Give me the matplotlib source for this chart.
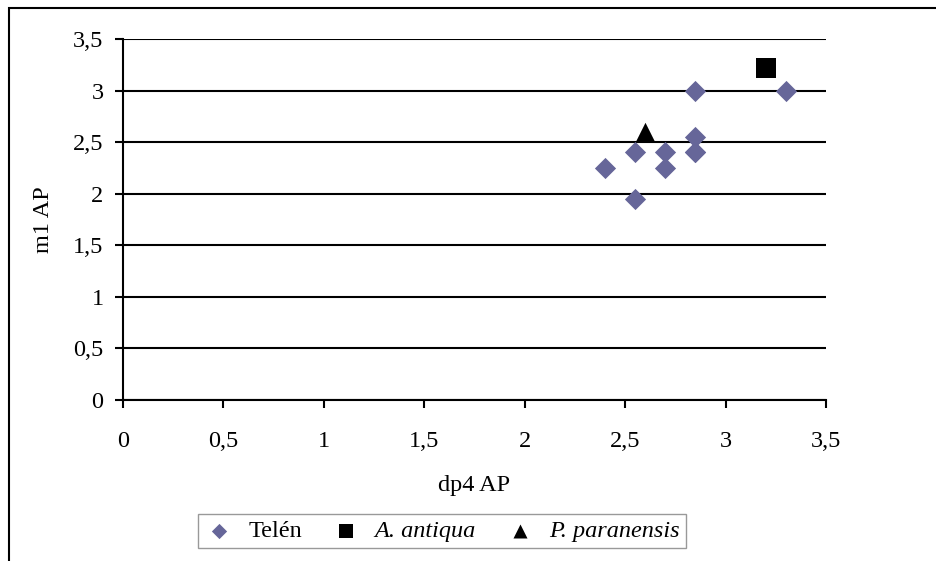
import matplotlib.pyplot as plt
from matplotlib.patches import Rectangle
from matplotlib.ticker import FuncFormatter

# dp4 AP vs m1 AP
telen_x = [2.4, 2.55, 2.55, 2.7, 2.7, 2.85, 2.85, 2.85, 2.85, 3.3]
telen_y = [2.25, 2.4, 1.95, 2.4, 2.25, 3.0, 2.55, 2.4, 2.4, 3.0]
antiqua_x = [3.2]
antiqua_y = [3.22]
paranensis_x = [2.6]
paranensis_y = [2.6]

ticks = [0, 0.5, 1, 1.5, 2, 2.5, 3, 3.5]

plt.rcParams['font.family'] = ['Liberation Serif', 'DejaVu Serif']
fs = 17.5

fig = plt.figure(figsize=(9.36, 5.61), dpi=100)
fig.patch.set_facecolor('white')
ax = fig.add_axes([0.1314, 0.287, 0.7511, 0.6435])

ax.scatter(telen_x, telen_y, marker='D', s=10.8**2, color='#666699',
           linewidths=0, zorder=3, label='Telén')
ax.scatter(antiqua_x, antiqua_y, marker='s', s=14**2, color='black',
           linewidths=0, zorder=3, label='A. antiqua')
ax.scatter(paranensis_x, paranensis_y, marker='^', s=14**2, color='black',
           linewidths=0, zorder=3, label='P. paranensis')

ax.set_xlim(0, 3.5)
ax.set_ylim(0, 3.5)
ax.set_xticks(ticks)
ax.set_yticks(ticks)
fmt = FuncFormatter(lambda v, p: ('%g' % v).replace('.', ','))
ax.xaxis.set_major_formatter(fmt)
ax.yaxis.set_major_formatter(fmt)
ax.yaxis.grid(True, color='black', linewidth=1.5)
ax.set_axisbelow(True)
for s in ['top', 'right']:
    ax.spines[s].set_visible(False)
for s in ['left', 'bottom']:
    ax.spines[s].set_linewidth(1.5)
ax.tick_params(direction='out', length=6, width=1.5, labelsize=fs)
ax.tick_params(axis='y', pad=8)
ax.tick_params(axis='x', pad=16)

ax.set_xlabel('dp4 AP', fontsize=fs, labelpad=17)
ax.set_ylabel('m1 AP', fontsize=fs, labelpad=14)

leg = ax.legend(loc='center', bbox_to_anchor=(442 / 936, 1 - 531 / 561),
                bbox_transform=fig.transFigure, ncol=3, fontsize=fs,
                markerscale=0.72, frameon=True, fancybox=False,
                edgecolor='#808080', handletextpad=0.6, columnspacing=1.2,
                borderpad=0.25, handlelength=1.2)
leg.get_frame().set_linewidth(1.0)
for t in leg.get_texts()[1:]:
    t.set_fontstyle('italic')

# outer chart border (runs off the right and bottom edges)
fig.patches.append(Rectangle((9 / 936, -0.05), 1.2, 1 - 8 / 561 + 0.05,
                             transform=fig.transFigure, fill=False,
                             edgecolor='black', linewidth=1.5))

fig.savefig('out.png', dpi=100)
